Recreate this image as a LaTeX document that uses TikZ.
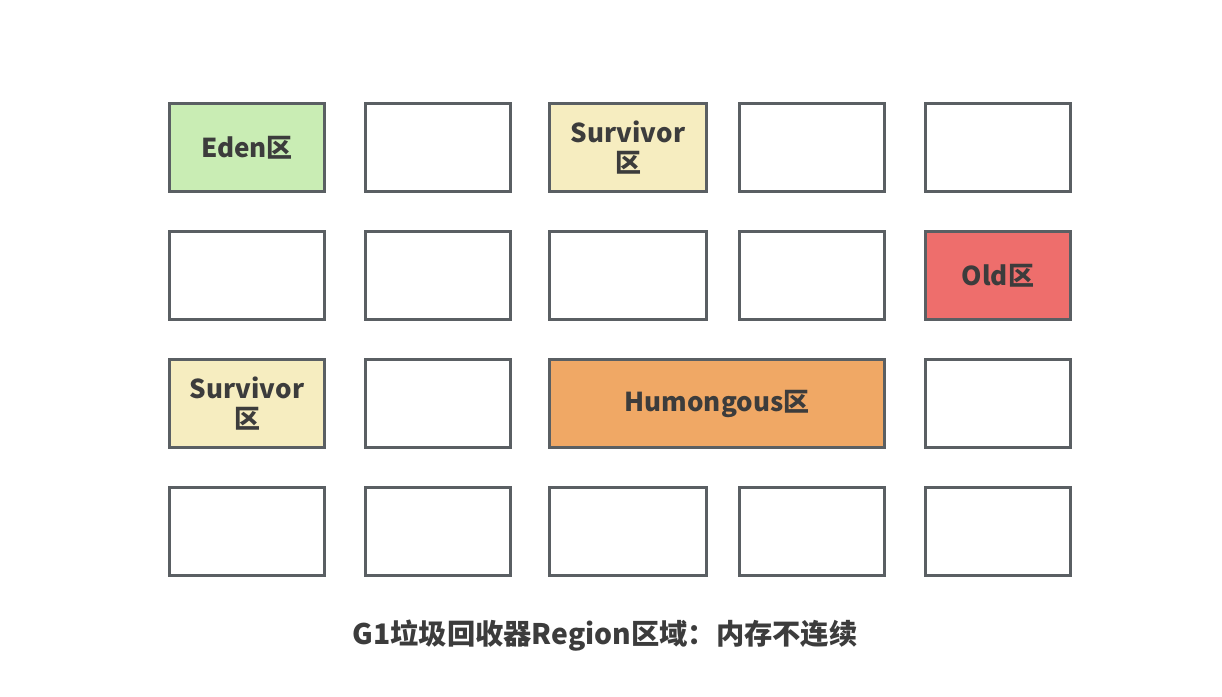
\documentclass[tikz,border=0pt]{standalone}
\usepackage{fontspec}
\setmainfont{Noto Sans CJK SC}
\usepackage{tikz}
\usetikzlibrary{positioning}
\definecolor{edengreen}{RGB}{201,237,180}
\definecolor{survivoryellow}{RGB}{246,237,192}
\definecolor{oldred}{RGB}{238,110,108}
\definecolor{humongousorange}{RGB}{240,168,101}
\definecolor{regionline}{RGB}{90,95,99}
\definecolor{regiontext}{RGB}{60,60,60}

\begin{document}
\begin{tikzpicture}[
    x=0.02cm, y=-0.02cm,
    every node/.style={font=\bfseries\fontsize{14.8}{17}\selectfont, text=regiontext},
    region/.style={rectangle, draw=regionline, line width=1.7pt, minimum width=2.9cm, minimum height=1.76cm, align=center, inner sep=0pt}
]
\useasboundingbox (0,0) rectangle (1222,696);

% empty regions
\foreach \name/\xpos/\ypos/\w in {r1c2/438/147.5/2.9, r1c4/812/147.5/2.9, r1c5/998/147.5/2.9,
    r2c1/247/275.5/3.1, r2c2/438/275.5/2.9, r2c3/628/275.5/3.14, r2c4/812/275.5/2.9,
    r3c2/438/403.5/2.9, r3c5/998/403.5/2.9,
    r4c1/247/531.5/3.1, r4c2/438/531.5/2.9, r4c3/628/531.5/3.14, r4c4/812/531.5/2.9, r4c5/998/531.5/2.9} {
    \node[region, minimum width=\w cm, fill=white] (\name) at (\xpos, \ypos) {};
}

% typed regions
\node[region, minimum width=3.1cm, fill=edengreen] (eden) at (247, 147.5) {Eden区};
\node[region, minimum width=3.14cm, fill=survivoryellow] (survivora) at (628, 147.5) {Survivor\\区};
\node[region, fill=oldred] (old) at (998, 275.5) {Old区};
\node[region, minimum width=3.1cm, fill=survivoryellow] (survivorb) at (247, 403.5) {Survivor\\区};
\node[region, minimum width=6.7cm, fill=humongousorange] (humongous) at (717, 403.5) {Humongous区};

\node[font=\bfseries\fontsize{16.1}{19}\selectfont] (caption) at (605, 636) {G1垃圾回收器Region区域：内存不连续};

\end{tikzpicture}
\end{document}
